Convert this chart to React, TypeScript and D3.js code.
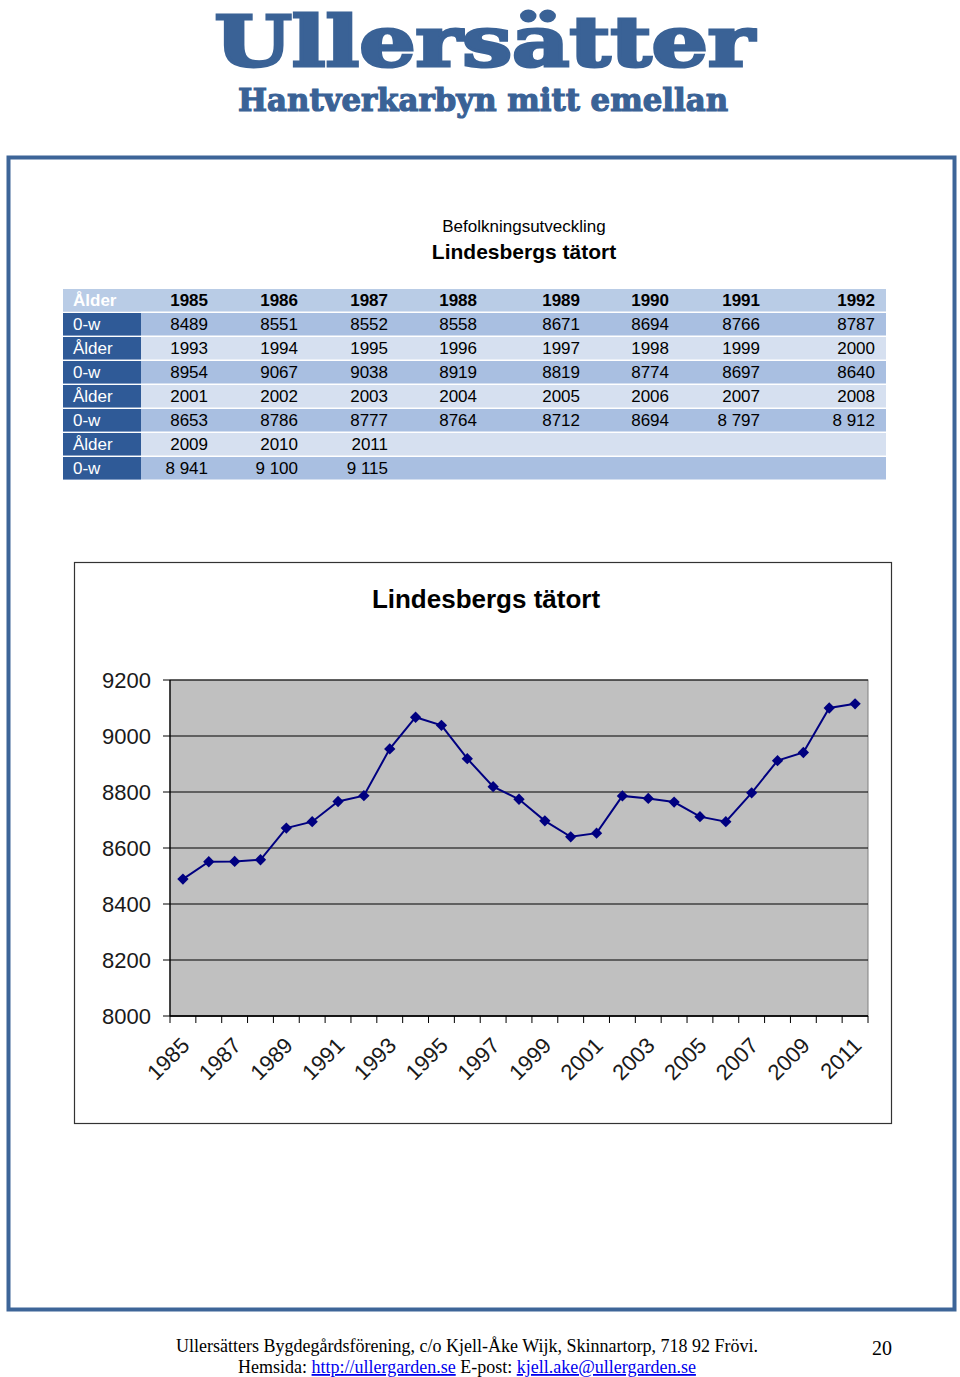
import React, { useEffect } from "react";
import * as d3 from "d3";

const years: number[] = [1985,1986,1987,1988,1989,1990,1991,1992,1993,1994,1995,1996,1997,1998,1999,2000,2001,2002,2003,2004,2005,2006,2007,2008,2009,2010,2011];
const population: number[] = [8489,8551,8552,8558,8671,8694,8766,8787,8954,9067,9038,8919,8819,8774,8697,8640,8653,8786,8777,8764,8712,8694,8797,8912,8941,9100,9115];
const displayValues: string[] = ["8489","8551","8552","8558","8671","8694","8766","8787","8954","9067","9038","8919","8819","8774","8697","8640","8653","8786","8777","8764","8712","8694","8 797","8 912","8 941","9 100","9 115"];
const yTicks: number[] = [8000, 8200, 8400, 8600, 8800, 9000, 9200];
const xLabelYears: number[] = years.filter((y, i) => i % 2 === 0);

const BLUE = "#3a6296";
const colRight = [208, 298, 388, 477, 580, 669, 760, 875];

export default function App() {
  useEffect(() => {
    document.body.style.margin = "0";
  }, []);

  const W = 960, H = 1377;
  const plot = { left: 170, right: 868, top: 680, bottom: 1016 };
  const x = d3.scaleBand<number>().domain(years).range([plot.left, plot.right]).padding(0);
  const y = d3.scaleLinear().domain([8000, 9200]).range([plot.bottom, plot.top]);
  const cx = (yr: number) => (x(yr) as number) + x.bandwidth() / 2;
  const line = d3.line<number>().x((d, i) => cx(years[i])).y(d => y(d));
  const diamond = d3.symbol().type(d3.symbolSquare).size(64)() as string;

  const groups: number[][] = [];
  for (let i = 0; i < years.length; i += 8) groups.push(years.slice(i, i + 8).map((_, j) => i + j));
  const tableTop = 289;
  const rowH = 24;
  const tLeft = 63, tRight = 886, labelRight = 141;

  const rows: { label: string; cells: string[]; kind: string }[] = [];
  groups.forEach((g, gi) => {
    rows.push({ label: "Ålder", cells: g.map(i => String(years[i])), kind: gi === 0 ? "head" : "year" });
    rows.push({ label: "0-w", cells: g.map(i => displayValues[i]), kind: "val" });
  });

  return (
    <svg width={W} height={H} style={{ display: "block" }} fontFamily="Liberation Sans, Arial, sans-serif">
      <rect x={0} y={0} width={W} height={H} fill="#ffffff" />
      {/* header */}
      <text x={484.5} y={66} textAnchor="middle" fontFamily="DejaVu Serif" fontWeight={900} fontSize={70}
        fill={BLUE} stroke={BLUE} strokeWidth={3} textLength={540} lengthAdjust="spacingAndGlyphs">Ullersätter</text>
      <text x={483} y={111} textAnchor="middle" fontFamily="DejaVu Serif" fontWeight={900} fontSize={31}
        fill={BLUE} stroke={BLUE} strokeWidth={1.2} textLength={490} lengthAdjust="spacingAndGlyphs">Hantverkarbyn mitt emellan</text>

      {/* frame */}
      <rect x={8.5} y={157.5} width={946} height={1152} fill="none" stroke="#3d6598" strokeWidth={4} />

      <text x={524} y={232} textAnchor="middle" fontSize={17} fill="#000">Befolkningsutveckling</text>
      <text x={524} y={259} textAnchor="middle" fontSize={21} fontWeight="bold" fill="#000">Lindesbergs tätort</text>

      {/* table */}
      {rows.map((r, ri) => {
        const ty = tableTop + ri * rowH;
        const bg = r.kind === "val" ? "#a9bfe1" : r.kind === "head" ? "#b9cce6" : "#d6e0f0";
        const labelBg = r.kind === "head" ? "#b9cce6" : "#2f5a97";
        return (
          <g key={ri}>
            <rect x={tLeft} y={ty} width={tRight - tLeft} height={rowH - 1.5} fill={bg} />
            <rect x={tLeft} y={ty} width={labelRight - tLeft} height={rowH - 1.5} fill={labelBg} />
            <text x={tLeft + 10} y={ty + 17} fontSize={17} fill="#ffffff" fontWeight={r.kind === "head" ? "bold" : "normal"}>{r.label}</text>
            {r.cells.map((c, ci) => (
              <text key={ci} x={colRight[ci]} y={ty + 17} textAnchor="end" fontSize={17} fill="#000"
                fontWeight={r.kind === "head" ? "bold" : "normal"}>{c}</text>
            ))}
          </g>
        );
      })}

      {/* chart box */}
      <rect x={74.5} y={562.5} width={817} height={561} fill="#ffffff" stroke="#333" strokeWidth={1.2} />
      <text x={486} y={608} textAnchor="middle" fontSize={26} fontWeight="bold" fill="#000">Lindesbergs tätort</text>

      <rect x={plot.left} y={plot.top} width={plot.right - plot.left} height={plot.bottom - plot.top} fill="#c0c0c0" stroke="#808080" strokeWidth={1} />
      {yTicks.map(t => (
        <g key={t}>
          <line x1={plot.left} x2={plot.right} y1={y(t)} y2={y(t)} stroke="#000" strokeWidth={1} />
          <line x1={plot.left - 7} x2={plot.left} y1={y(t)} y2={y(t)} stroke="#000" strokeWidth={1} />
          <text x={151} y={y(t) + 8} textAnchor="end" fontSize={22} fill="#1a1a1a">{t}</text>
        </g>
      ))}
      <line x1={plot.left} x2={plot.left} y1={plot.top} y2={plot.bottom} stroke="#000" strokeWidth={1.3} />
      <line x1={plot.left} x2={plot.right} y1={plot.bottom} y2={plot.bottom} stroke="#000" strokeWidth={1.3} />
      {years.concat([years[years.length - 1] + 1]).map((yr, i) => {
        const xx = plot.left + i * x.bandwidth();
        return <line key={yr} x1={xx} x2={xx} y1={plot.bottom} y2={plot.bottom + 7} stroke="#000" strokeWidth={1} />;
      })}
      {xLabelYears.map(yr => (
        <text key={yr} transform={`translate(${cx(yr) - 3},${plot.bottom + 20}) rotate(-45)`} textAnchor="end"
          fontSize={22} fill="#1a1a1a" dy="0.7em">{yr}</text>
      ))}

      <path d={line(population) as string} fill="none" stroke="#000080" strokeWidth={2} />
      {population.map((v, i) => (
        <path key={i} d={diamond} transform={`translate(${cx(years[i])},${y(v)}) rotate(45)`} fill="#000080" />
      ))}

      {/* footer */}
      <text x={467} y={1352} textAnchor="middle" fontFamily="Liberation Serif, Times New Roman, serif" fontSize={18} fill="#000">
        Ullersätters Bygdegårdsförening, c/o Kjell-Åke Wijk, Skinnartorp, 718 92 Frövi.
      </text>
      <text x={882} y={1355} textAnchor="middle" fontFamily="Liberation Serif, Times New Roman, serif" fontSize={20} fill="#000">20</text>
      <text x={467} y={1373} textAnchor="middle" fontFamily="Liberation Serif, Times New Roman, serif" fontSize={18} fill="#000">
        Hemsida: <tspan fill="#0000ee" textDecoration="underline">http://ullergarden.se</tspan> E-post: <tspan fill="#0000ee" textDecoration="underline">kjell.ake@ullergarden.se</tspan>
      </text>
    </svg>
  );
}
